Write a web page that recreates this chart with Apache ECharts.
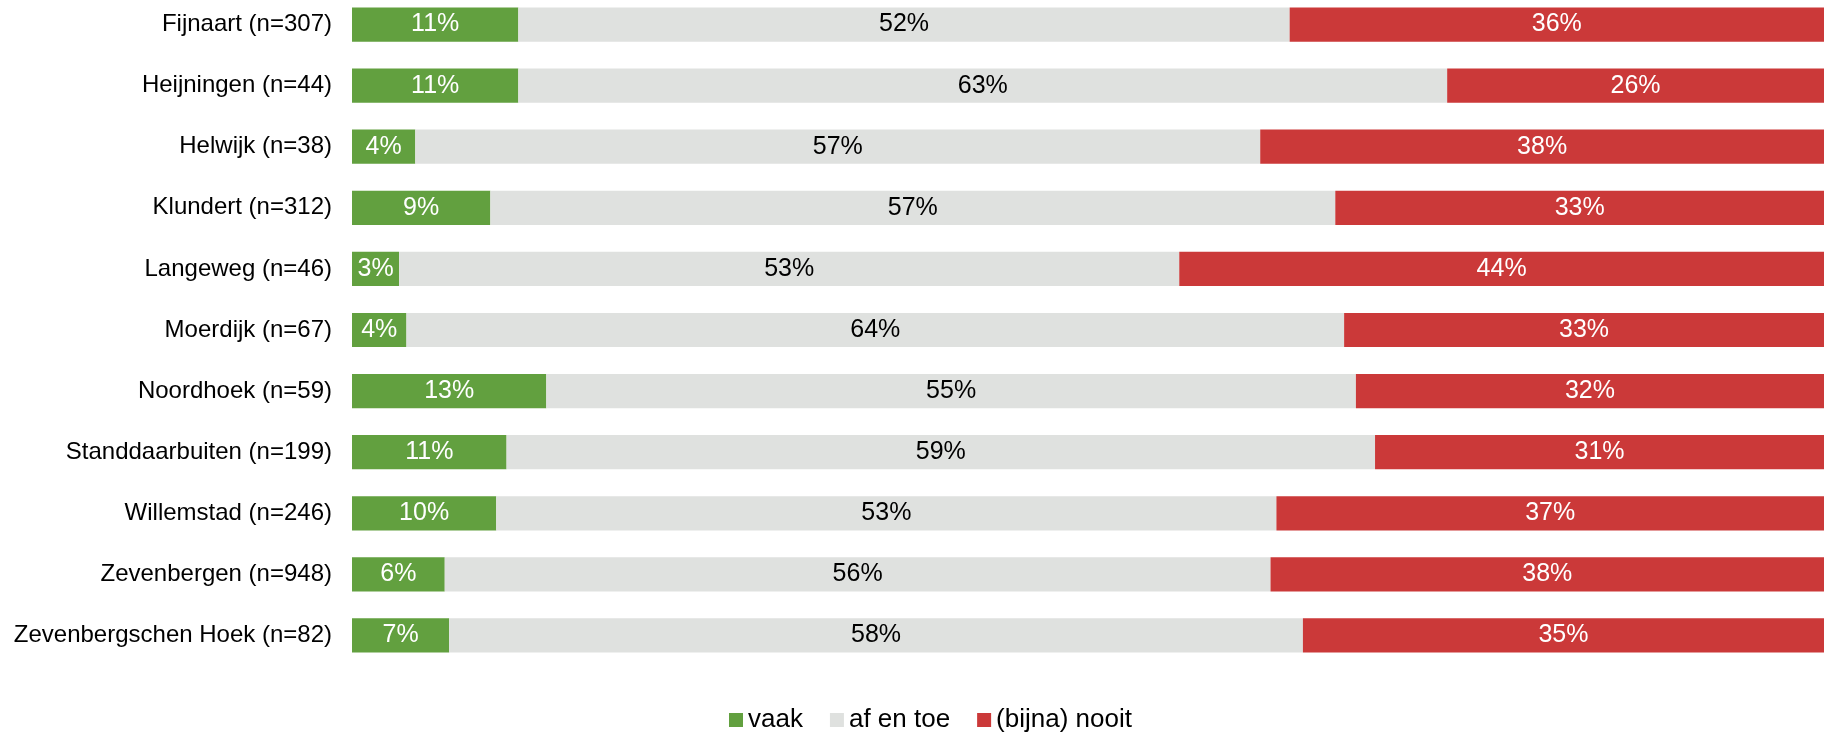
<!DOCTYPE html>
<html>
<head>
<meta charset="utf-8">
<script src="https://cdn.jsdelivr.net/npm/echarts@6/dist/echarts.min.js"></script>
<style>
  html, body { margin: 0; padding: 0; background: #fff; }
  #main { width: 1829px; height: 732px; }
</style>
</head>
<body>
<div id="main"></div>
<script>
  var categories = ['Fijnaart (n=307)', 'Heijningen (n=44)', 'Helwijk (n=38)', 'Klundert (n=312)',
    'Langeweg (n=46)', 'Moerdijk (n=67)', 'Noordhoek (n=59)', 'Standdaarbuiten (n=199)',
    'Willemstad (n=246)', 'Zevenbergen (n=948)', 'Zevenbergschen Hoek (n=82)'];
  var vaak = [11.3, 11.3, 4.3, 9.4, 3.2, 3.7, 13.2, 10.5, 9.8, 6.3, 6.6];
  var afEnToe = [52.4, 63.1, 57.4, 57.4, 53.0, 63.7, 55.0, 59.0, 53.0, 56.1, 58.0];
  var nooit = [36.3, 25.6, 38.3, 33.2, 43.8, 32.6, 31.8, 30.5, 37.2, 37.6, 35.4];

  var myChart = echarts.init(document.getElementById('main'));

  function pct(p) { return Math.round(p.value) + '%'; }

  function serie(name, data, color, labelColor) {
    return {
      name: name,
      type: 'bar',
      stack: 'total',
      barCategoryGap: '44%',
      data: data,
      itemStyle: { color: color },
      label: {
        show: true,
        position: 'inside',
        color: labelColor,
        fontFamily: 'Liberation Sans',
        fontSize: 25,
        formatter: pct
      }
    };
  }

  var option = {
    animation: false,
    legend: {
      top: 702,
      left: 724,
      itemWidth: 14,
      itemHeight: 14,
      itemGap: 27,
      icon: 'rect',
      textStyle: { fontFamily: 'Liberation Sans', fontSize: 26, color: '#000' },
      data: ['vaak', 'af en toe', '(bijna) nooit']
    },
    grid: {
      left: 352,
      right: 5,
      top: -6,
      height: 672,
      outerBoundsMode: 'none'
    },
    xAxis: {
      type: 'value',
      min: 0,
      max: 100,
      show: false
    },
    yAxis: {
      type: 'category',
      inverse: true,
      data: categories,
      axisLine: { show: false },
      axisTick: { show: false },
      axisLabel: {
        margin: 20,
        color: '#000',
        fontFamily: 'Liberation Sans',
        fontSize: 24
      }
    },
    series: [
      serie('vaak', vaak, '#62a03f', '#fff'),
      serie('af en toe', afEnToe, '#dfe1df', '#000'),
      serie('(bijna) nooit', nooit, '#cb3939', '#fff')
    ]
  };

  myChart.setOption(option);
</script>
</body>
</html>
